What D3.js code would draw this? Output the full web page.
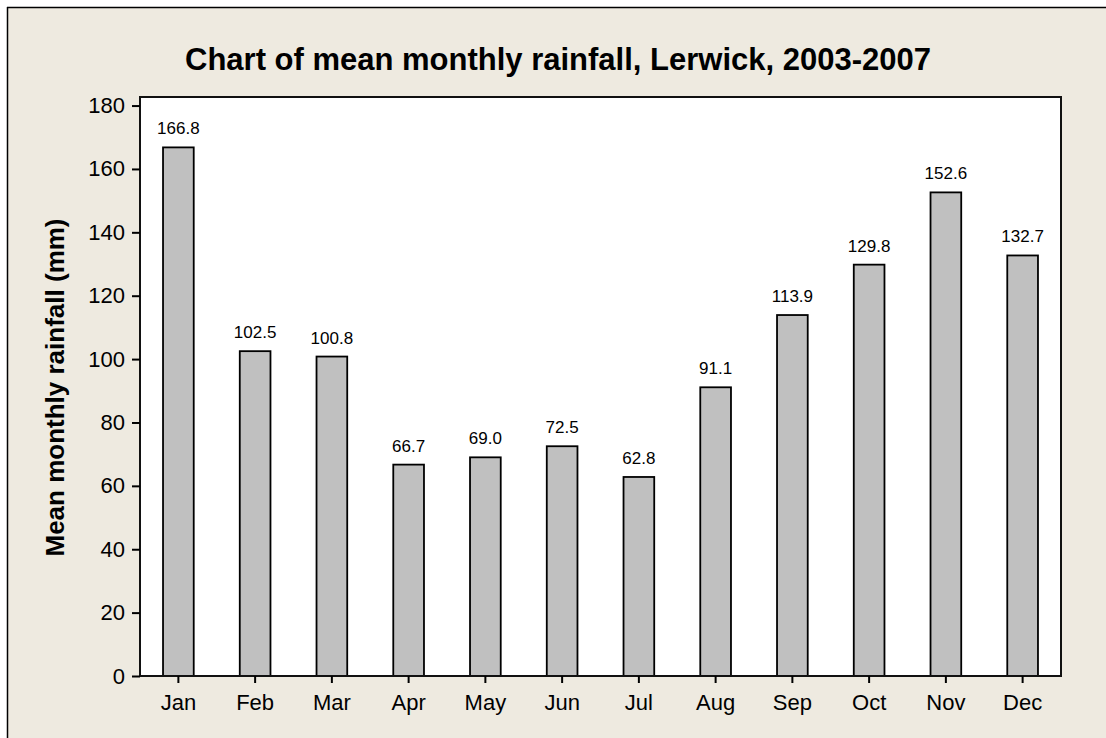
<!DOCTYPE html>
<html>
<head>
<meta charset="utf-8">
<script src="https://cdn.jsdelivr.net/npm/d3@7"></script>
<style>
  html, body { margin: 0; padding: 0; background: #ffffff; }
  svg { display: block; }
  text { font-family: "Liberation Sans", Arial, sans-serif; fill: #000; }
</style>
</head>
<body>
<svg id="chart" width="1106" height="738"></svg>
<script>
const months = ["Jan","Feb","Mar","Apr","May","Jun","Jul","Aug","Sep","Oct","Nov","Dec"];
const rainfall = [166.8, 102.5, 100.8, 66.7, 69.0, 72.5, 62.8, 91.1, 113.9, 129.8, 152.6, 132.7];
const yTicks = [0, 20, 40, 60, 80, 100, 120, 140, 160, 180];
const titleText = "Chart of mean monthly rainfall, Lerwick, 2003-2007";
const yAxisTitle = "Mean monthly rainfall (mm)";

const svg = d3.select("#chart");
const W = 1106, H = 738;
const plot = { left: 140, right: 1061, top: 97, bottom: 676 };

// outer background and border (top & left visible)
svg.append("rect").attr("x", 7).attr("y", 7).attr("width", W - 7).attr("height", H - 7)
  .attr("fill", "#EEEAE0");
svg.append("line").attr("x1", 7).attr("x2", W).attr("y1", 7.5).attr("y2", 7.5)
  .attr("stroke", "#000").attr("stroke-width", 1.5);
svg.append("line").attr("x1", 7.5).attr("x2", 7.5).attr("y1", 7).attr("y2", H)
  .attr("stroke", "#000").attr("stroke-width", 1.5);

const x = d3.scaleBand().domain(months).range([plot.left, plot.right])
  .paddingInner(0.6).paddingOuter(0.3);
const y = d3.scaleLinear().domain([0, 182.7]).range([plot.bottom, plot.top]);

// plot area
svg.append("rect").attr("x", plot.left).attr("y", plot.top)
  .attr("width", plot.right - plot.left).attr("height", plot.bottom - plot.top)
  .attr("fill", "#ffffff");

// bars
svg.append("g").selectAll("rect").data(rainfall).join("rect")
  .attr("x", (d, i) => x(months[i]))
  .attr("y", d => y(d))
  .attr("width", x.bandwidth())
  .attr("height", d => y(0) - y(d))
  .attr("fill", "#C0C0C0")
  .attr("stroke", "#000")
  .attr("stroke-width", 1.8);

// value labels
svg.append("g").selectAll("text").data(rainfall).join("text")
  .attr("x", (d, i) => x(months[i]) + x.bandwidth() / 2)
  .attr("y", d => y(d) - 13)
  .attr("text-anchor", "middle")
  .style("font-size", "17px")
  .text(d => d.toFixed(1));

// frame
svg.append("rect").attr("x", plot.left).attr("y", plot.top)
  .attr("width", plot.right - plot.left).attr("height", plot.bottom - plot.top)
  .attr("fill", "none").attr("stroke", "#111").attr("stroke-width", 2);

// y axis
const yAxis = svg.append("g").attr("transform", `translate(${plot.left},0)`)
  .call(d3.axisLeft(y).tickValues(yTicks).tickSize(8).tickPadding(7).tickFormat(d3.format("d")));
yAxis.select(".domain").remove();
yAxis.selectAll("line").attr("stroke", "#000").attr("stroke-width", 2);
yAxis.selectAll("text").style("font-size", "22px").style("font-family", "Liberation Sans, Arial, sans-serif");

// x axis
const xAxis = svg.append("g").attr("transform", `translate(0,${plot.bottom})`)
  .call(d3.axisBottom(x).tickSize(7).tickPadding(11));
xAxis.select(".domain").remove();
xAxis.selectAll("line").attr("stroke", "#000").attr("stroke-width", 2);
xAxis.selectAll("text").style("font-size", "22px").style("font-family", "Liberation Sans, Arial, sans-serif");

// title
svg.append("text").attr("x", 558).attr("y", 70).attr("text-anchor", "middle")
  .style("font-size", "31px").style("font-weight", "bold").text(titleText);

// y axis title
svg.append("text").attr("transform", `translate(64,${(plot.top + plot.bottom) / 2 + 1}) rotate(-90)`)
  .attr("text-anchor", "middle")
  .style("font-size", "26px").style("font-weight", "bold").text(yAxisTitle);
</script>
</body>
</html>
